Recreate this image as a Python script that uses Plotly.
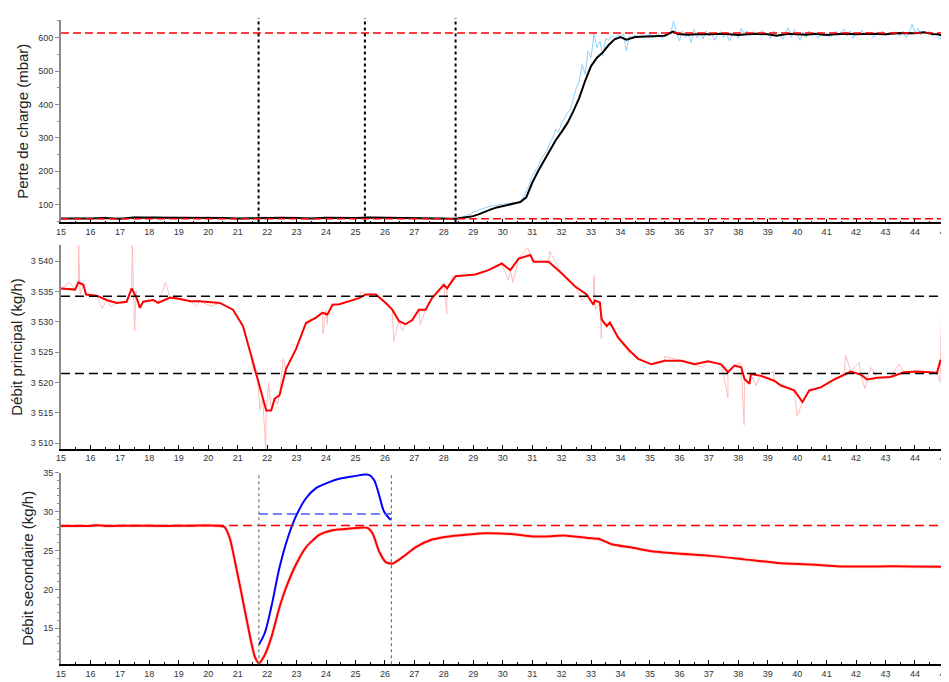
import numpy as np
import plotly.graph_objects as go

# ---------- panel 1 : perte de charge (mbar) ----------
dp_smooth_x = [15.0, 15.5, 16.0, 16.5, 17.0, 17.5, 18.0, 18.5, 19.0, 19.5, 20.0, 20.5, 21.0,
               21.5, 22.0, 22.5, 23.0, 23.5, 24.0, 24.5, 25.0, 25.5, 26.0, 26.5, 27.0, 27.5,
               28.0, 28.4, 28.7, 29.0, 29.2, 29.4, 29.6, 29.8, 30.0, 30.2, 30.4, 30.6, 30.8,
               31.0, 31.2, 31.4, 31.6, 31.8, 32.0, 32.2, 32.4, 32.6, 32.8, 33.0, 33.2, 33.4,
               33.6, 33.8, 34.0, 34.2, 34.5, 34.8, 35.2, 35.5, 35.78, 35.95, 36.3, 36.7, 37.0,
               37.5, 38.0, 38.5, 39.0, 39.3, 39.7, 40.0, 40.3, 40.6, 41.0, 41.3, 41.7, 42.0,
               42.5, 43.0, 43.5, 44.0, 44.3, 44.6, 44.8, 45.0]
dp_smooth_y = [59, 58, 59, 60, 58, 62, 62, 61, 61, 60, 61, 60, 59,
               60, 61, 61, 60, 59, 61, 60, 60, 62, 61, 60, 60, 59,
               59, 58, 62, 66, 72, 80, 86, 92, 96, 100, 104, 108, 122,
               165, 200, 232, 262, 293, 318, 345, 380, 420, 471, 515, 540, 556,
               578, 595, 602, 594, 602, 603, 604, 606, 618, 611, 609, 611, 610,
               612, 608, 612, 610, 606, 612, 611, 609, 612, 608, 610, 612, 610,
               612, 610, 614, 613, 616, 611, 610, 603]

dp_raw_a = [60, 58, 59, 62, 58, 57, 60, 61, 59, 58, 60, 57, 64, 63, 61, 62, 65, 61, 60, 62,
            59, 60, 61, 58, 61, 63, 60, 58, 60, 61, 58, 59, 62, 60, 63, 62, 60, 61, 59, 62,
            60, 58, 60, 59, 62, 63, 60, 58, 61, 60, 58, 60, 64, 61, 60, 62, 59, 61, 60, 58,
            60, 61, 59, 58, 60, 59, 57, 58]
dp_raw_b = [60, 62, 65, 70, 72, 78, 80, 85, 88, 92, 95, 96, 97, 99, 100, 102, 103, 104, 104, 106,
            107, 112, 122, 140, 160, 185, 200, 215, 235, 250, 262, 285, 300, 325, 318, 345, 360, 375, 385, 420,
            450, 470, 520, 490, 560, 540, 612, 570, 590, 545, 598, 592, 606, 598, 610, 604, 612, 560, 606, 600,
            608, 603, 610, 606, 605, 612, 600, 607, 612, 598, 606, 615, 610, 650, 615, 590, 620, 600, 612, 585,
            625, 600, 615, 596, 620, 605, 612, 592, 610, 618, 600, 612, 590, 608, 615, 598, 628, 612, 620, 605,
            618, 612, 608, 622, 615, 612, 598, 620, 605, 610, 595, 612, 630, 600, 625, 610, 592, 618, 600, 620,
            605, 612, 598, 610, 605, 615, 600, 608, 620, 610, 618, 625, 605, 620, 598, 615, 610, 622, 608, 615,
            612, 600, 618, 610, 620, 606, 615, 610, 618, 612, 605, 620, 600, 612, 640, 615, 628, 608, 618, 612,
            620, 605, 612, 600, 595, 610]
dp_limits = [614, 58]
dp_events = [21.71, 25.32, 28.4]

# ---------- panel 2 : debit principal (kg/h) ----------
qp_x = [15.0, 15.48, 15.59, 15.76, 15.85, 16.21, 16.55, 16.89, 17.23, 17.4, 17.57, 17.68, 17.79,
        18.13, 18.3, 18.7, 19.0, 19.4, 19.71, 20.39, 20.84, 21.18, 21.46, 21.68, 21.85, 21.97,
        22.14, 22.25, 22.42, 22.64, 22.98, 23.32, 23.66, 23.88, 24.05, 24.22, 24.45, 24.9, 25.12,
        25.35, 25.69, 26.03, 26.25, 26.48, 26.7, 26.93, 27.15, 27.38, 27.6, 28.0, 28.11, 28.4,
        29.07, 29.52, 29.97, 30.26, 30.54, 30.94, 31.05, 31.56, 32.0, 32.46, 32.85, 33.08, 33.13,
        33.3, 33.36, 33.53, 33.64, 33.92, 34.32, 34.6, 35.05, 35.5, 36.07, 36.52, 36.97, 37.42,
        37.65, 37.87, 38.1, 38.21, 38.38, 38.43, 38.77, 39.22, 39.45, 39.9, 40.18, 40.41, 40.8,
        41.26, 41.59, 41.82, 42.16, 42.38, 42.72, 43.17, 43.63, 44.08, 44.75, 44.86, 45.0]
qp_y = [3535.5, 3535.3, 3536.5, 3536.1, 3534.5, 3534.3, 3533.6, 3533.1, 3533.3, 3535.5, 3533.9, 3532.3, 3533.3,
        3533.6, 3533.1, 3534.0, 3533.8, 3533.4, 3533.4, 3533.1, 3532.0, 3529.3, 3524.4, 3520.6, 3517.6, 3515.4,
        3515.4, 3517.3, 3517.9, 3522.2, 3525.5, 3529.8, 3530.7, 3531.5, 3531.2, 3532.8, 3532.9, 3533.6, 3533.9,
        3534.5, 3534.5, 3533.1, 3532.0, 3530.1, 3529.6, 3530.3, 3532.0, 3532.0, 3533.9, 3536.1, 3535.5, 3537.5,
        3537.8, 3538.5, 3539.6, 3538.5, 3540.4, 3541.0, 3539.9, 3539.9, 3538.0, 3535.8, 3534.5, 3532.8, 3533.5,
        3533.2, 3530.4, 3529.3, 3529.9, 3527.4, 3525.2, 3523.9, 3523.0, 3523.6, 3523.6, 3523.0, 3523.5, 3523.0,
        3521.7, 3522.8, 3522.5, 3520.6, 3519.8, 3521.4, 3521.1, 3520.3, 3519.5, 3518.7, 3516.8, 3518.7, 3519.2,
        3520.5, 3521.3, 3521.8, 3521.3, 3520.5, 3520.8, 3520.9, 3521.7, 3521.8, 3521.6, 3523.6, 3523.7]
qp_spike_x = [15.3, 15.6, 15.65, 16.4, 16.7, 17.42, 17.5, 17.55, 18.55, 19.6, 20.1, 21.5, 21.75, 21.95,
              22.05, 22.35, 22.55, 23.9, 24.0, 24.05, 25.2, 26.3, 26.6, 27.2, 28.1, 28.3, 30.2, 30.35,
              30.85, 31.6, 32.7, 33.1, 33.15, 33.35, 34.3, 35.5, 36.8, 37.65, 38.05, 38.2, 38.6, 39.2,
              40.0, 40.1, 41.65, 42.1, 42.3, 42.5, 43.45, 44.85, 44.9, 44.95]
qp_spike_y = [3536.5, 3542.6, 3534.5, 3532.2, 3532.5, 3542.6, 3528.5, 3535.0, 3536.5, 3532.5, 3532.6, 3522.5,
              3515.5, 3509.0, 3520.0, 3516.5, 3524.0, 3528.0, 3532.0, 3529.5, 3535.0, 3526.8, 3528.5, 3529.5,
              3531.3, 3537.5, 3536.8, 3536.5, 3542.2, 3541.6, 3533.5, 3537.6, 3532.0, 3527.2, 3524.8, 3524.3,
              3522.5, 3517.5, 3523.3, 3513.0, 3519.5, 3521.8, 3514.5, 3515.7, 3524.5, 3523.3, 3519.0, 3522.5,
              3523.0, 3520.0, 3531.0, 3524.0]
qp_limits = [3534.2, 3521.5]

# ---------- panel 3 : debit secondaire (kg/h) ----------
qs_x = [15.0, 16.0, 16.2, 16.5, 17.5, 18.5, 19.5, 20.3, 20.55, 20.73, 20.95, 21.18, 21.4, 21.57, 21.72,
        21.91, 22.14, 22.42, 22.64, 22.98, 23.32, 23.77, 24.22, 24.79, 25.41, 25.58, 25.8, 26.03,
        26.25, 26.59, 27.04, 27.6, 28.17, 28.74, 29.41, 30.31, 31.0, 31.5, 32.17, 32.91, 33.25,
        33.7, 34.49, 35.05, 35.95, 37.08, 38.21, 39.34, 40.47, 41.59, 42.72, 43.85, 45.0]
qs_y = [28.15, 28.15, 28.22, 28.15, 28.18, 28.15, 28.18, 28.18, 28.0, 26.6, 22.8, 18.5, 14.3, 11.5, 10.5,
        11.5, 13.8, 17.7, 20.2, 23.2, 25.4, 27.0, 27.6, 27.8, 27.9, 27.2, 24.9, 23.5,
        23.3, 24.1, 25.4, 26.4, 26.8, 27.0, 27.2, 27.1, 26.8, 26.8, 26.9, 26.6, 26.5,
        25.8, 25.3, 24.9, 24.6, 24.3, 23.85, 23.4, 23.2, 22.95, 22.95, 22.95, 22.9]
qs_corr_x = [21.72, 21.91, 22.14, 22.42, 22.7, 22.98, 23.32, 23.66, 24.0, 24.45, 24.9, 25.46,
             25.63, 25.8, 25.97, 26.2]
qs_corr_y = [12.9, 14.3, 17.7, 22.8, 26.6, 29.4, 31.7, 33.0, 33.6, 34.2, 34.5, 34.7,
             34.05, 32.15, 30.0, 28.9]
qs_limit = 28.2
qs_corr_mean = 29.67
qs_events = [21.72, 26.22]

FONT = 'Liberation Sans, Arial, sans-serif'

# raw pink = smooth + spikes, ordered by x
qp_raw = sorted(zip(qp_x + qp_spike_x, qp_y + qp_spike_y))

fig = go.Figure()

# panel 1
fig.add_trace(go.Scatter(x=np.linspace(15, 28.4, len(dp_raw_a)), y=dp_raw_a, mode='lines',
                         line=dict(color='#8fd0fa', width=1), xaxis='x', yaxis='y'))
fig.add_trace(go.Scatter(x=np.linspace(28.5, 45, len(dp_raw_b)), y=dp_raw_b, mode='lines',
                         line=dict(color='#8fd0fa', width=1), xaxis='x', yaxis='y'))
fig.add_trace(go.Scatter(x=dp_smooth_x, y=dp_smooth_y, mode='lines',
                         line=dict(color='black', width=2), xaxis='x', yaxis='y'))

# panel 2
fig.add_trace(go.Scatter(x=[p[0] for p in qp_raw], y=[p[1] for p in qp_raw], mode='lines',
                         line=dict(color='#ffbcbc', width=1), xaxis='x2', yaxis='y2'))
fig.add_trace(go.Scatter(x=qp_x, y=qp_y, mode='lines',
                         line=dict(color='#ff0000', width=2), xaxis='x2', yaxis='y2'))

# panel 3
fig.add_trace(go.Scatter(x=qs_x, y=qs_y, mode='lines', line_shape='spline',
                         line=dict(color='rgba(255,150,150,0.35)', width=3.5, smoothing=0.6),
                         xaxis='x3', yaxis='y3'))
fig.add_trace(go.Scatter(x=qs_x, y=qs_y, mode='lines', line_shape='spline',
                         line=dict(color='#ff0000', width=2, smoothing=0.6), xaxis='x3', yaxis='y3'))
fig.add_trace(go.Scatter(x=qs_corr_x, y=qs_corr_y, mode='lines', line_shape='spline',
                         line=dict(color='#0000ff', width=2), xaxis='x3', yaxis='y3'))

shapes = []
for v in dp_limits:
    shapes.append(dict(type='line', xref='x domain', yref='y', x0=0, x1=1, y0=v, y1=v,
                       line=dict(color='#ff0000', width=1.5, dash='8px,4px')))
for v in dp_events:
    shapes.append(dict(type='line', xref='x', yref='y domain', x0=v, x1=v, y0=0, y1=1.01,
                       line=dict(color='black', width=2, dash='dot')))
for v in qp_limits:
    shapes.append(dict(type='line', xref='x2 domain', yref='y2', x0=0, x1=1, y0=v, y1=v,
                       line=dict(color='black', width=1.5, dash='9px,5px')))
shapes.append(dict(type='line', xref='x3 domain', yref='y3', x0=0, x1=1, y0=qs_limit, y1=qs_limit,
                   line=dict(color='#ff0000', width=1.5, dash='9px,5px')))
shapes.append(dict(type='line', xref='x3', yref='y3', x0=qs_events[0], x1=qs_events[1],
                   y0=qs_corr_mean, y1=qs_corr_mean,
                   line=dict(color='#4455ff', width=1.5, dash='9px,5px')))
for v in qs_events:
    shapes.append(dict(type='line', xref='x3', yref='y3 domain', x0=v, x1=v, y0=0, y1=1,
                       line=dict(color='#777777', width=1.2, dash='dot')))


def xax(anchor):
    return dict(range=[15, 45.02], tickvals=list(range(15, 46)), anchor=anchor,
                showgrid=False, zeroline=False, ticklabeloverflow='allow',
                showline=True, linecolor='black', linewidth=1.5, mirror=False,
                ticks='inside', ticklen=4, tickcolor='black', tickwidth=1,
                minor=dict(dtick=0.5, ticks='inside', ticklen=2, tickcolor='black'),
                tickfont=dict(family=FONT, size=9, color='#333'))


def yax(anchor, rng, domain, title, **kw):
    d = dict(range=rng, domain=domain, anchor=anchor, showgrid=False, zeroline=False,
             showline=True, linecolor='#8a8a8a', linewidth=2,
             ticks='outside', ticklen=4, tickcolor='#8a8a8a', tickwidth=1,
             tickfont=dict(family=FONT, size=9, color='#333'),
             title=dict(text=title, font=dict(family=FONT, size=15, color='#222'), standoff=6))
    d.update(kw)
    return d


# the page body adds an 8px offset, so the figure is sized to fit the window
fig.update_layout(
    width=941, height=674,
    margin=dict(l=53, r=2, t=0, b=0),
    plot_bgcolor='white', paper_bgcolor='white',
    showlegend=False,
    shapes=shapes,
    xaxis=xax('y'),
    xaxis2=xax('y2'),
    xaxis3=xax('y3'),
    yaxis=yax('x', [47, 653], [0.6869, 0.9896], 'Perte de charge (mbar)',
              tickvals=[100, 200, 300, 400, 500, 600],
              minor=dict(dtick=50, ticks='outside', ticklen=2, tickcolor='#8a8a8a')),
    yaxis2=yax('x2', [3509.1, 3542.6], [0.3487, 0.6528], 'Débit principal (kg/h)',
               tickvals=[3510, 3515, 3520, 3525, 3530, 3535, 3540],
               ticktext=['3 510', '3 515', '3 520', '3 525', '3 530', '3 535', '3 540']),
    yaxis3=yax('x3', [10.4, 35], [0.0267, 0.3131], 'Débit secondaire (kg/h)',
               tickvals=[15, 20, 25, 30, 35],
               minor=dict(dtick=1, ticks='outside', ticklen=2, tickcolor='#8a8a8a')),
)

fig.write_html("out.html")
